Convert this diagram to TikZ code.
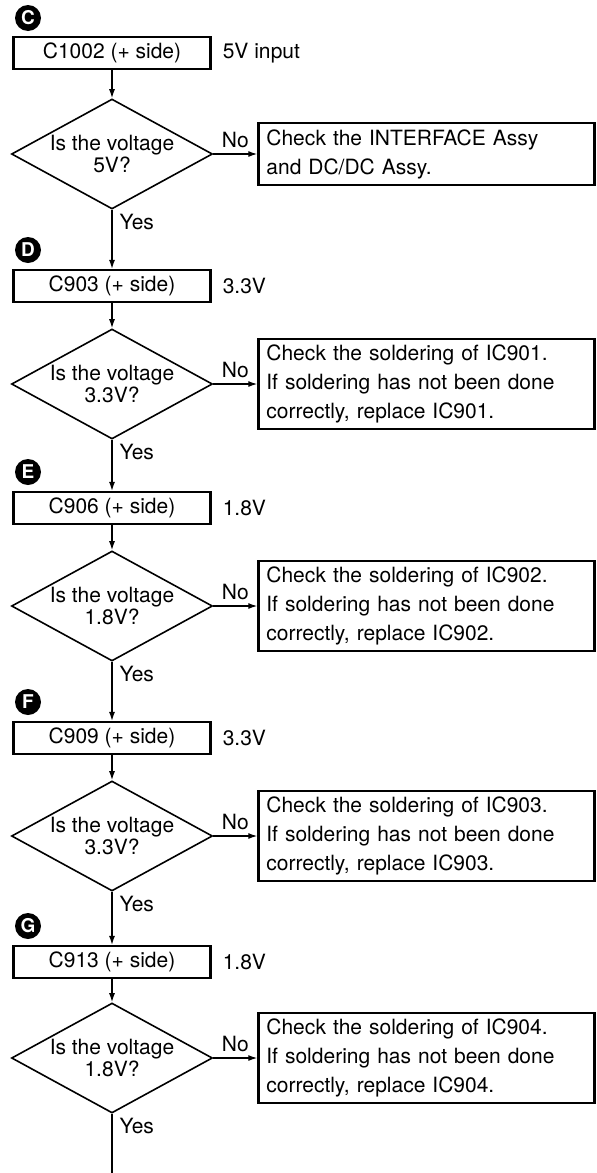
\documentclass[tikz,border=0pt]{standalone}
\usepackage{fontspec}
\setmainfont{TeX Gyre Heros}
\usepackage{tikz}
\usetikzlibrary{shapes.geometric,arrows.meta,positioning}

\begin{document}
\begin{tikzpicture}[x=1pt,y=-1pt,font=\fontsize{21}{29}\selectfont,
    every node/.style={inner sep=0pt},
    lett/.style={circle,fill=black,text=white,minimum size=26pt,font=\fontsize{19}{19}\selectfont\bfseries},
    cbox/.style={draw,line width=2.2pt,minimum width=197pt,minimum height=32pt},
    dia/.style={diamond,draw,line width=1.6pt,aspect=1.83,minimum width=201pt,minimum height=110pt,align=center,font=\fontsize{21}{20}\selectfont},
    chk/.style={draw,line width=2.2pt,text width=320pt,inner xsep=8pt,inner ysep=6pt,align=left},
    arr/.style={-{Latex[length=9pt,width=6pt]},line width=1.3pt},
    yes/.style={pos=0,anchor=north west,xshift=7pt,yshift=-4pt},
    no/.style={midway,above=6pt}]
  \useasboundingbox (0,0) rectangle (597,1173);
  % C
  \node[lett] (lC) at (28,18) {C};
  \node[cbox] (b1) at (112,53) {C1002 (+ side)};
  \node[right=11pt of b1] (v1) {5V input};
  \node[dia] (d1) at (112,154) {Is the voltage\\5V?};
  \node[chk,right=44pt of d1] (k1) {Check the INTERFACE Assy\\and DC/DC Assy.};
  % D
  \node[lett] (lD) at (28,250) {D};
  \node[cbox] (b2) at (112,286) {C903 (+ side)};
  \node[right=11pt of b2] (v2) {3.3V};
  \node[dia] (d2) at (112,384) {Is the voltage\\3.3V?};
  \node[chk,right=44pt of d2] (k2) {Check the soldering of IC901.\\If soldering has not been done\\correctly, replace IC901.};
  % E
  \node[lett] (lE) at (28,472) {E};
  \node[cbox] (b3) at (112,508) {C906 (+ side)};
  \node[right=11pt of b3] (v3) {1.8V};
  \node[dia] (d3) at (112,606) {Is the voltage\\1.8V?};
  \node[chk,right=44pt of d3] (k3) {Check the soldering of IC902.\\If soldering has not been done\\correctly, replace IC902.};
  % F
  \node[lett] (lF) at (28,702) {F};
  \node[cbox] (b4) at (112,738) {C909 (+ side)};
  \node[right=11pt of b4] (v4) {3.3V};
  \node[dia] (d4) at (112,836) {Is the voltage\\3.3V?};
  \node[chk,right=44pt of d4] (k4) {Check the soldering of IC903.\\If soldering has not been done\\correctly, replace IC903.};
  % G
  \node[lett] (lG) at (28,926) {G};
  \node[cbox] (b5) at (112,962) {C913 (+ side)};
  \node[right=11pt of b5] (v5) {1.8V};
  \node[dia] (d5) at (112,1058) {Is the voltage\\1.8V?};
  \node[chk,right=44pt of d5] (k5) {Check the soldering of IC904.\\If soldering has not been done\\correctly, replace IC904.};
  \coordinate (end) at (112,1173);
  \foreach \i in {1,...,5} {\draw[arr] (b\i) -- (d\i); \draw[arr] (d\i) -- node[no] (n\i) {No} (k\i);}
  \foreach \i/\j in {1/2,2/3,3/4,4/5} {\draw[arr] (d\i) -- node[yes] (y\i) {Yes} (b\j);}
  \draw[line width=1.3pt] (d5) -- node[yes] (y5) {Yes} (end);
\end{tikzpicture}
\end{document}
